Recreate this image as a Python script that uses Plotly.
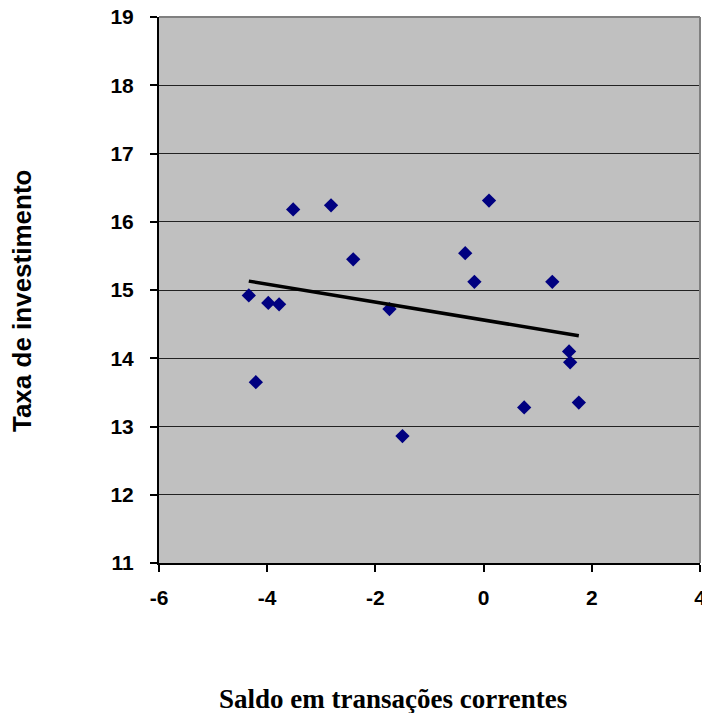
import numpy as np
import plotly.graph_objects as go

# saldo em transações correntes (x) e taxa de investimento (y)
saldo = [-4.34, -4.21, -3.98, -3.78, -3.52, -2.82, -2.41, -1.74, -1.50,
         -0.34, -0.17, 0.10, 0.75, 1.27, 1.58, 1.60, 1.76]
taxa = [14.92, 13.65, 14.81, 14.79, 16.18, 16.24, 15.45, 14.72, 12.86,
        15.54, 15.12, 16.31, 13.28, 15.12, 14.10, 13.94, 13.35]

x_ticks = [-6, -4, -2, 0, 2, 4]
y_ticks = [11, 12, 13, 14, 15, 16, 17, 18, 19]

# linha de tendência linear (mínimos quadrados)
slope, intercept = np.polyfit(saldo, taxa, 1)
trend_x = [min(saldo), max(saldo)]
trend_y = [slope * v + intercept for v in trend_x]

fig = go.Figure()

fig.add_trace(go.Scatter(
    x=saldo, y=taxa, mode='markers',
    marker=dict(symbol='diamond', size=11, color='#000080'),
    showlegend=False
))

fig.add_trace(go.Scatter(
    x=trend_x, y=trend_y, mode='lines',
    line=dict(color='black', width=3.5),
    showlegend=False
))

tick_font = dict(family='Liberation Sans, Arial', size=21, color='black')

fig.update_layout(
    width=702,
    height=713,
    margin=dict(l=159, r=2, t=17, b=150),
    paper_bgcolor='white',
    plot_bgcolor='#C0C0C0',
    showlegend=False,
    font=dict(family='Liberation Sans, Arial', color='black'),
    annotations=[
        dict(text='<b>Taxa de investimento</b>', textangle=-90,
             xref='paper', yref='paper', x=-0.253, y=0.48,
             xanchor='center', yanchor='middle', showarrow=False,
             font=dict(family='Liberation Sans, Arial', size=26, color='black')),
        dict(text='<b>Saldo em transações correntes</b>',
             xref='paper', yref='paper', x=0.4325, y=-0.249,
             xanchor='center', yanchor='middle', showarrow=False,
             font=dict(family='Liberation Serif, Times New Roman', size=27,
                       color='black')),
    ],
)

fig.update_xaxes(
    range=[-6, 4], tickvals=x_ticks,
    ticktext=[f'<b>{v}</b>' for v in x_ticks],
    showgrid=False, zeroline=False, automargin=False,
    showline=True, linecolor='black', linewidth=2,
    ticks='outside', ticklen=7, tickwidth=2, tickcolor='black',
    tickfont=tick_font, ticklabelstandoff=8, ticklabeloverflow='allow',
)

fig.update_yaxes(
    range=[11, 19], tickvals=y_ticks,
    ticktext=[f'<b>{v}</b>' for v in y_ticks],
    showgrid=True, gridcolor='#222222', gridwidth=1.2, zeroline=False,
    automargin=False,
    showline=True, linecolor='black', linewidth=2,
    ticks='outside', ticklen=7, tickwidth=2, tickcolor='black',
    tickfont=tick_font, ticklabelstandoff=12, ticklabeloverflow='allow',
)

# bordas cinzas superior e direita da área do gráfico
fig.add_shape(type='line', xref='paper', yref='paper', x0=0, x1=1, y0=1, y1=1,
              line=dict(color='#808080', width=2))
fig.add_shape(type='line', xref='paper', yref='paper', x0=1, x1=1, y0=0, y1=1,
              line=dict(color='#808080', width=2))

# sem margem no body, para a figura ocupar a janela inteira
fig.write_html(
    'out.html',
    config={'displayModeBar': False},
    post_script="document.body.style.margin='0';"
                "document.body.style.overflow='hidden';"
)
